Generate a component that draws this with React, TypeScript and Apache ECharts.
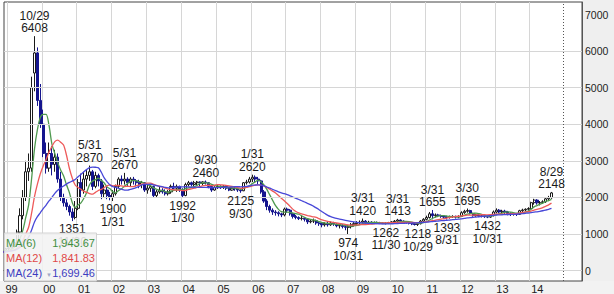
import React, { useEffect, useRef } from "react";
import * as echarts from "echarts";

// Monthly candles: [open, close, low, high]
const y1998 = [
  [470, 480, 450, 510], [480, 470, 450, 500], [470, 500, 460, 520], [500, 520, 480, 540],
  [520, 490, 470, 530], [490, 510, 470, 530], [510, 530, 490, 550], [530, 500, 480, 540],
  [500, 480, 460, 520], [480, 520, 470, 540], [520, 560, 500, 580], [560, 600, 540, 620],
];
const y1999 = [
  [600, 620, 560, 680], [620, 700, 600, 740], [700, 760, 680, 800], [760, 1050, 740, 1120],
  [1050, 1500, 1000, 1700], [1500, 2000, 1400, 2200], [2000, 2700, 1900, 3000], [2700, 2800, 2450, 3200],
  [2800, 5000, 2700, 5300], [5400, 5950, 4900, 6408], [5950, 4650, 4500, 6100], [4650, 4000, 3900, 5100],
];
const y2000 = [
  [4000, 3200, 3100, 4400], [3200, 2800, 2650, 3500], [2800, 3200, 2700, 3500], [3200, 2900, 2600, 3400],
  [2900, 3100, 2700, 3300], [3100, 2500, 2400, 3200], [2500, 2000, 1900, 2700], [2000, 1850, 1750, 2100],
  [1850, 1750, 1650, 1950], [1750, 1600, 1500, 1800], [1600, 1450, 1351, 1700], [1450, 1700, 1400, 1900],
];
const y2001 = [
  [1700, 2400, 1650, 2500], [2400, 2200, 2000, 2650], [2200, 2500, 2100, 2700], [2500, 2600, 2300, 2750],
  [2600, 2700, 2450, 2870], [2700, 2300, 2200, 2750], [2300, 2600, 2250, 2700], [2600, 2450, 2300, 2650],
  [2450, 2100, 1950, 2500], [2100, 2200, 2000, 2350], [2200, 2050, 1950, 2300], [2050, 2000, 1920, 2150],
];
const y2002 = [
  [2000, 2100, 1900, 2200], [2100, 2300, 2050, 2350], [2300, 2500, 2250, 2550], [2500, 2450, 2350, 2600],
  [2450, 2500, 2350, 2670], [2500, 2400, 2300, 2550], [2400, 2500, 2300, 2550], [2500, 2450, 2350, 2560],
  [2450, 2400, 2300, 2500], [2400, 2350, 2250, 2480], [2350, 2400, 2250, 2450], [2400, 2200, 2150, 2420],
];
const y2003 = [
  [2200, 2250, 2100, 2350], [2250, 2300, 2150, 2350], [2300, 2050, 2000, 2320], [2050, 2150, 2000, 2200],
  [2150, 2200, 2100, 2280], [2200, 2150, 2100, 2250], [2150, 2100, 2050, 2220], [2100, 2150, 2050, 2200],
  [2150, 2300, 2100, 2350], [2300, 2250, 2200, 2400], [2250, 2300, 2150, 2350], [2300, 2200, 2150, 2320],
];
const y2004 = [
  [2200, 2050, 1992, 2250], [2050, 2350, 2030, 2400], [2350, 2400, 2300, 2450], [2400, 2350, 2300, 2430],
  [2350, 2400, 2300, 2450], [2400, 2420, 2330, 2450], [2420, 2380, 2300, 2440], [2380, 2420, 2330, 2440],
  [2420, 2400, 2350, 2460], [2400, 2300, 2250, 2420], [2300, 2200, 2150, 2320], [2200, 2280, 2180, 2300],
];
const y2005 = [
  [2280, 2300, 2230, 2340], [2300, 2280, 2230, 2330], [2280, 2300, 2230, 2340], [2300, 2250, 2200, 2330],
  [2250, 2200, 2170, 2280], [2200, 2250, 2180, 2280], [2250, 2230, 2180, 2280], [2230, 2200, 2150, 2260],
  [2200, 2180, 2125, 2230], [2180, 2400, 2170, 2420], [2400, 2420, 2350, 2480], [2420, 2500, 2380, 2560],
];
const y2006 = [
  [2500, 2550, 2420, 2620], [2550, 2500, 2400, 2600], [2500, 2450, 2350, 2560], [2450, 2150, 2100, 2480],
  [2150, 1900, 1850, 2200], [1900, 1750, 1650, 1950], [1750, 1650, 1580, 1800], [1650, 1600, 1520, 1700],
  [1600, 1580, 1500, 1650], [1580, 1550, 1480, 1620], [1550, 1520, 1460, 1580], [1520, 1680, 1480, 1720],
];
const y2007 = [
  [1680, 1650, 1580, 1720], [1650, 1550, 1500, 1680], [1550, 1480, 1420, 1580], [1480, 1450, 1400, 1520],
  [1450, 1420, 1380, 1480], [1420, 1430, 1370, 1490], [1430, 1400, 1340, 1460], [1400, 1330, 1270, 1430],
  [1330, 1350, 1290, 1400], [1350, 1360, 1300, 1420], [1360, 1300, 1250, 1390], [1300, 1280, 1220, 1340],
];
const y2008 = [
  [1280, 1250, 1180, 1330], [1250, 1280, 1200, 1320], [1280, 1250, 1200, 1350], [1250, 1300, 1220, 1340],
  [1300, 1270, 1220, 1330], [1270, 1220, 1180, 1300], [1220, 1230, 1150, 1280], [1230, 1200, 1150, 1270],
  [1200, 1180, 1100, 1250], [1180, 1200, 974, 1250], [1200, 1250, 1150, 1300], [1250, 1280, 1200, 1330],
];
const y2009 = [
  [1280, 1300, 1220, 1350], [1300, 1320, 1250, 1370], [1320, 1350, 1280, 1420], [1350, 1300, 1260, 1380],
  [1300, 1320, 1270, 1360], [1320, 1300, 1270, 1350], [1300, 1310, 1270, 1340], [1310, 1300, 1270, 1340],
  [1300, 1290, 1270, 1330], [1290, 1280, 1270, 1320], [1280, 1290, 1262, 1320], [1290, 1310, 1270, 1330],
];
const y2010 = [
  [1310, 1330, 1280, 1350], [1330, 1350, 1300, 1380], [1350, 1380, 1320, 1413], [1380, 1350, 1320, 1400],
  [1350, 1320, 1290, 1370], [1320, 1310, 1280, 1350], [1310, 1290, 1260, 1330], [1290, 1270, 1240, 1310],
  [1270, 1260, 1230, 1300], [1260, 1280, 1218, 1310], [1280, 1350, 1260, 1380], [1350, 1400, 1320, 1430],
];
const y2011 = [
  [1400, 1450, 1370, 1500], [1450, 1550, 1420, 1600], [1550, 1500, 1400, 1655], [1500, 1520, 1450, 1560],
  [1520, 1500, 1460, 1550], [1500, 1480, 1440, 1530], [1480, 1460, 1420, 1510], [1460, 1450, 1393, 1500],
  [1450, 1470, 1420, 1500], [1470, 1480, 1440, 1510], [1480, 1460, 1420, 1500], [1460, 1480, 1430, 1510],
];
const y2012 = [
  [1480, 1580, 1460, 1620], [1580, 1620, 1550, 1660], [1620, 1640, 1580, 1695], [1640, 1560, 1530, 1660],
  [1560, 1500, 1470, 1580], [1500, 1520, 1470, 1550], [1520, 1500, 1460, 1540], [1500, 1480, 1450, 1530],
  [1480, 1470, 1440, 1510], [1470, 1460, 1432, 1500], [1460, 1500, 1440, 1530], [1500, 1600, 1480, 1640],
];
const y2013 = [
  [1600, 1650, 1560, 1700], [1650, 1600, 1560, 1680], [1600, 1620, 1560, 1660], [1620, 1600, 1540, 1660],
  [1600, 1560, 1510, 1630], [1560, 1540, 1490, 1590], [1540, 1550, 1500, 1580], [1550, 1535, 1490, 1570],
  [1535, 1635, 1520, 1660], [1635, 1655, 1600, 1690], [1655, 1675, 1620, 1700], [1675, 1695, 1640, 1730],
];
const y2014 = [
  [1695, 1855, 1680, 1880], [1855, 1925, 1800, 1960], [1925, 1850, 1800, 1950], [1850, 1860, 1780, 1900],
  [1860, 1880, 1820, 1920], [1880, 1960, 1850, 2000], [1960, 1990, 1900, 2040], [1990, 2122, 1960, 2148],
];

const candles = [
  ...y1998, ...y1999, ...y2000, ...y2001, ...y2002, ...y2003, ...y2004, ...y2005,
  ...y2006, ...y2007, ...y2008, ...y2009, ...y2010, ...y2011, ...y2012, ...y2013, ...y2014,
];

// Month categories, 1998-01 .. 2015-06 (axis shows from 1998-12)
const firstYear = 1998;
const lastYear = 2015;
const lastMonthOfLastYear = 6;
const categories: string[] = [];
for (let y = firstYear; y <= lastYear; y++) {
  const last = y === lastYear ? lastMonthOfLastYear : 12;
  for (let m = 1; m <= last; m++) categories.push(`${y}-${String(m).padStart(2, "0")}`);
}
const axisStart = "1998-12";
const lastLabelledYear = "2014";
const dottedMonth = "2014-12";

const yLabels = [0, 1000, 2000, 3000, 4000, 5000, 6000, 7000];
const yGridLines = [0, 1000, 2000, 3000, 4000, 5000, 6000];

// High / low annotations
const highMonths = ["1999-10", "2001-05", "2002-05", "2004-09", "2006-01", "2009-03", "2010-03", "2011-03", "2012-03", "2014-08"];
const highDates = ["10/29", "5/31", "5/31", "9/30", "1/31", "3/31", "3/31", "3/31", "3/30", "8/29"];
const highValues = [6408, 2870, 2670, 2460, 2620, 1420, 1413, 1655, 1695, 2148];
const lowMonths = ["2000-11", "2002-01", "2004-01", "2005-09", "2008-10", "2009-11", "2010-10", "2011-08", "2012-10"];
const lowDates = ["11/30", "1/31", "1/30", "9/30", "10/31", "11/30", "10/29", "8/31", "10/31"];
const lowValues = [1351, 1900, 1992, 2125, 974, 1262, 1218, 1393, 1432];

const maPeriods = [6, 12, 24];
const maColors = ["#4f9a4f", "#ee5a5a", "#4848d8"];
const maTextColors = ["#3f8f3f", "#e04848", "#3c3cc0"];

const FONT = '"Liberation Sans", Arial, sans-serif';

function movingAverage(closes: number[], n: number): number[] {
  return closes.map((_, i) => {
    const s = Math.max(0, i - n + 1);
    let sum = 0;
    for (let k = s; k <= i; k++) sum += closes[k];
    return Math.round((sum / (i - s + 1)) * 100) / 100;
  });
}

export default function App() {
  const ref = useRef<HTMLDivElement>(null);
  useEffect(() => {
    if (!ref.current) return;
    const chart = echarts.init(ref.current, undefined, { renderer: "svg" });
    const closes = candles.map((c) => c[1]);
    const mas = maPeriods.map((p) => movingAverage(closes, p));
    const lastMa = mas.map((a) => a[a.length - 1]);
    const fmt = (v: number) =>
      v.toLocaleString("en-US", { minimumFractionDigits: 2, maximumFractionDigits: 2 });
    const startIdx = categories.indexOf(axisStart);

    const markData: any[] = [];
    highMonths.forEach((m, i) =>
      markData.push({
        coord: [m, highValues[i]],
        label: { position: "top", distance: 1, formatter: `${highDates[i]}\n${highValues[i]}` },
      })
    );
    lowMonths.forEach((m, i) =>
      markData.push({
        coord: [m, lowValues[i]],
        label: { position: "bottom", distance: 1.5, formatter: `${lowValues[i]}\n${lowDates[i]}` },
      })
    );

    const legendRows = maPeriods.map((p, i) => [
      {
        type: "text",
        x: 6,
        y: 242.5 + i * 15,
        z: 101,
        style: { text: `MA(${p})`, fill: maTextColors[i], font: `11px ${FONT}`, textVerticalAlign: "middle" },
      },
      {
        type: "text",
        x: 95,
        y: 242.5 + i * 15,
        z: 101,
        style: { text: fmt(lastMa[i]), fill: maTextColors[i], font: `11px ${FONT}`, textAlign: "right", textVerticalAlign: "middle" },
      },
    ]).flat();

    chart.setOption({
      animation: false,
      grid: { left: 4, right: 32, top: 2, bottom: 13, show: true, borderColor: "#444", borderWidth: 1, backgroundColor: "#fff" },
      xAxis: {
        type: "category",
        data: categories,
        min: startIdx,
        max: categories.length - 1,
        boundaryGap: true,
        axisLine: { show: true, lineStyle: { color: "#444" } },
        axisTick: { show: false },
        axisLabel: {
          interval: (i: number, v: string) =>
            i === startIdx || (v.endsWith("-01") && v >= "2000-01" && v.slice(0, 4) <= lastLabelledYear),
          formatter: (v: string) => (v === axisStart ? "99" : v.slice(2, 4)),
          align: "left",
          margin: 2,
          fontSize: 11,
          color: "#222",
          fontFamily: FONT,
        },
        splitLine: {
          show: true,
          interval: (i: number, v: string) => v.endsWith("-01") && v.slice(0, 4) <= lastLabelledYear,
          lineStyle: { color: "#d6d6d6", width: 1 },
        },
      },
      yAxis: {
        type: "value",
        position: "right",
        min: -287,
        max: 7342,
        axisLine: { show: true, lineStyle: { color: "#555" } },
        axisTick: { show: false },
        splitLine: { show: false },
        axisLabel: {
          customValues: yLabels,
          formatter: (v: number) => String(v),
          margin: 3,
          fontSize: 10.5,
          color: "#222",
          fontFamily: FONT,
        },
      },
      graphic: [
        { type: "rect", z: -1, shape: { x: 582.5, y: 0, width: 32, height: 281 }, style: { fill: "#efefef" } },
        { type: "rect", z: -1, shape: { x: 0, y: 281, width: 614, height: 13 }, style: { fill: "#f2f2f2" } },
        {
          type: "rect",
          z: 100,
          shape: { x: 4.5, y: 233, width: 92, height: 48 },
          style: { fill: "rgba(242,242,242,0.88)", stroke: "#d2d2d2", lineWidth: 1 },
        },
        ...legendRows,
        {
          type: "text",
          x: 49,
          y: 275,
          z: 101,
          style: { text: "▼", fill: "#a0a8c8", font: `6px ${FONT}`, textAlign: "center", textVerticalAlign: "middle" },
        },
      ],
      series: [
        {
          type: "line",
          data: [],
          z: 1,
          silent: true,
          markLine: {
            silent: true,
            symbol: ["none", "none"],
            label: { show: false },
            lineStyle: { color: "#d6d6d6", type: "solid", width: 1 },
            data: [
              ...yGridLines.map((v) => ({ yAxis: v })),
              { xAxis: dottedMonth, lineStyle: { color: "#555", type: [1, 2], width: 1 } },
            ],
          },
        },
        {
          type: "candlestick",
          data: candles,
          clip: true,
          barWidth: 2.6,
          z: 2,
          silent: true,
          itemStyle: {
            color: "#ffffff",
            borderColor: "#1a1a1a",
            color0: "#15158e",
            borderColor0: "#15158e",
            borderWidth: 1,
          },
          markPoint: {
            symbol: "circle",
            symbolSize: 1,
            silent: true,
            itemStyle: { color: "rgba(0,0,0,0)" },
            label: { color: "#1a1a1a", fontSize: 12, lineHeight: 12.5, fontFamily: FONT },
            data: markData,
          },
        },
        ...mas.map((d, i) => ({
          type: "line",
          data: d,
          showSymbol: false,
          symbol: "none",
          silent: true,
          z: 3,
          smooth: 0.3,
          lineStyle: { color: maColors[i], width: 1.3 },
        })),
      ],
    });
    return () => chart.dispose();
  }, []);
  return (
    <div
      ref={ref}
      style={{ position: "fixed", left: 0, top: 0, width: 614, height: 294, background: "#fff" }}
    />
  );
}
